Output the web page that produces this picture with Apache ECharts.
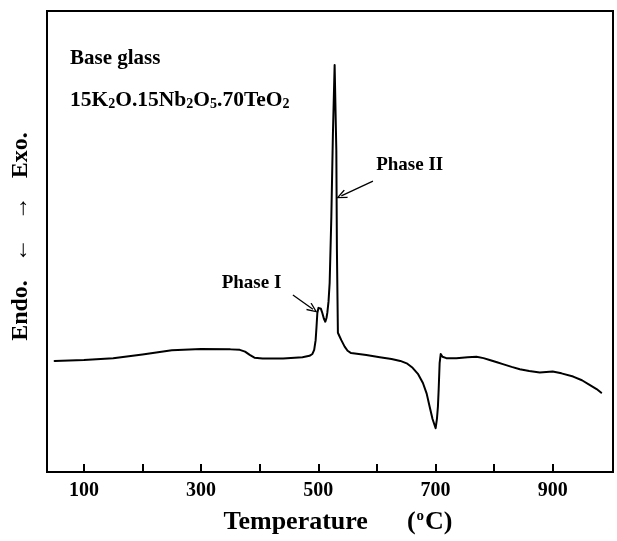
<!DOCTYPE html>
<html>
<head>
<meta charset="utf-8">
<script src="https://cdn.jsdelivr.net/npm/echarts@6/dist/echarts.min.js"></script>
<style>
  html, body { margin: 0; padding: 0; background: #fff; }
  #chart { width: 617px; height: 541px; }
</style>
</head>
<body>
<div id="chart"></div>
<script>
// DTA trace of the base glass, heat flow in arbitrary units
var temps = [50, 100, 150, 200, 250, 300, 350, 366, 375, 383, 391, 405, 440, 473, 485, 490,
  493, 495.5, 497, 498.4, 500.3, 502.3, 504.5, 506.9, 509.5, 512, 514, 515.4, 517.5,
  519.4, 522.3, 525, 527.9, 530.8, 531.8, 533.5, 536, 539.3, 545, 550, 556, 582,
  605, 625, 640, 652, 661, 670, 678.6, 685, 690, 695, 700.3, 702.5, 704.2, 705.5,
  707.1, 709, 712, 718.5, 735.6, 755, 770, 782, 792.5, 805, 815, 830, 844, 860,
  878, 900, 915, 935, 950, 963, 975, 983];
var signal = [24.1, 24.3, 24.7, 25.5, 26.4, 26.7, 26.6, 26.5, 26.1, 25.4, 24.8, 24.6, 24.6, 24.9, 25.2, 25.6,
  26.5, 28.6, 31.5, 34.5, 35.6, 35.9, 35.4, 34.5, 33.3, 32.6, 33.4, 34.5, 37.0,
  41.0, 55.4, 73.5, 88.3, 69.8, 48.2, 30.2, 29.5, 28.6, 27.2, 26.3, 25.8, 25.4,
  24.9, 24.5, 24.1, 23.5, 22.6, 21.3, 19.3, 17.0, 14.2, 11.5, 9.5, 11.5, 14.2, 18.0,
  23.6, 25.6, 25.0, 24.7, 24.7, 24.9, 25.0, 24.7, 24.3, 23.8, 23.4, 22.8, 22.3, 21.9,
  21.6, 21.8, 21.4, 20.7, 19.9, 18.9, 18.0, 17.2];

var tickValues = [100, 200, 300, 400, 500, 600, 700, 800, 900];
var labelValues = [100, 300, 500, 700, 900];

// annotations: label anchor, arrow start, arrow end
var phaseNames = ['Phase I', 'Phase II'];
var phaseLabelAt = [[386, 41.0], [656, 66.6]];
var arrowFrom = [[456.7, 38.4], [593.3, 63.1]];
var arrowTo = [[490.9, 35.3], [539.3, 59.9]];

var serif = '"Liberation Serif", "Times New Roman", serif';
var points = temps.map(function (t, i) { return [t, signal[i]]; });

// open "V" arrow head
var openArrow = 'path://M0,10 L5,0 L10,10 L8.8,10.8 L5,3 L1.2,10.8 Z';

var chart = echarts.init(document.getElementById('chart'));
chart.setOption({
  animation: false,
  grid: {
    left: 47, right: 4, top: 11, bottom: 69,
    show: true, borderColor: '#000', borderWidth: 2, backgroundColor: 'transparent'
  },
  xAxis: {
    type: 'value', min: 37, max: 1003,
    name: 'Temperature      ({sup|o}C)',
    nameLocation: 'middle', nameGap: 37,
    nameTextStyle: {
      fontFamily: serif, fontWeight: 'bold', fontSize: 26, color: '#000', padding: [0, 0, 0, 16],
      rich: { sup: { fontFamily: serif, fontWeight: 'bold', fontSize: 15, padding: [0, 1, 12, 1], color: '#000' } }
    },
    axisLine: { lineStyle: { color: '#000', width: 2 } },
    axisTick: { inside: true, length: 8, lineStyle: { color: '#000', width: 2 }, customValues: tickValues },
    axisLabel: {
      customValues: labelValues, margin: 9,
      fontFamily: serif, fontWeight: 'bold', fontSize: 20, color: '#000'
    },
    splitLine: { show: false }
  },
  yAxis: {
    type: 'value', min: 0, max: 100,
    name: 'Endo.   \u2190   \u2192   Exo.',
    nameLocation: 'middle', nameGap: 14, nameRotate: 90,
    nameTextStyle: { fontFamily: serif, fontWeight: 'bold', fontSize: 24, color: '#000', padding: [0, 0, 0, 10] },
    axisLine: { show: false }, axisTick: { show: false },
    axisLabel: { show: false }, splitLine: { show: false }
  },
  graphic: [
    {
      type: 'text', left: 70, top: 48,
      style: { text: 'Base glass', fontFamily: serif, fontWeight: 'bold', fontSize: 21, fill: '#000' }
    },
    {
      type: 'text', left: 70, top: 89,
      style: {
        text: '15K{s|2}O.15Nb{s|2}O{s|5}.70TeO{s|2}',
        fontFamily: serif, fontWeight: 'bold', fontSize: 21.5, fill: '#000',
        rich: { s: { fontFamily: serif, fontWeight: 'bold', fontSize: 14, padding: [9, 0, 0, 0], fill: '#000' } }
      }
    }
  ],
  series: [{
    type: 'line',
    data: points,
    showSymbol: false,
    smooth: false,
    lineStyle: { color: '#000', width: 2, join: 'round', cap: 'round' },
    silent: true,
    markLine: {
      silent: true,
      symbol: ['none', openArrow],
      symbolSize: [9, 11],
      label: { show: false },
      lineStyle: { color: '#000', width: 1.3, type: 'solid' },
      data: arrowFrom.map(function (p, i) {
        return [{ coord: p }, { coord: arrowTo[i] }];
      })
    },
    markPoint: {
      silent: true,
      symbol: 'circle', symbolSize: 0,
      label: {
        show: true, position: 'inside', formatter: '{b}',
        fontFamily: serif, fontWeight: 'bold', fontSize: 19, color: '#000'
      },
      data: phaseNames.map(function (n, i) {
        return { name: n, coord: phaseLabelAt[i] };
      })
    }
  }]
});
</script>
</body>
</html>
